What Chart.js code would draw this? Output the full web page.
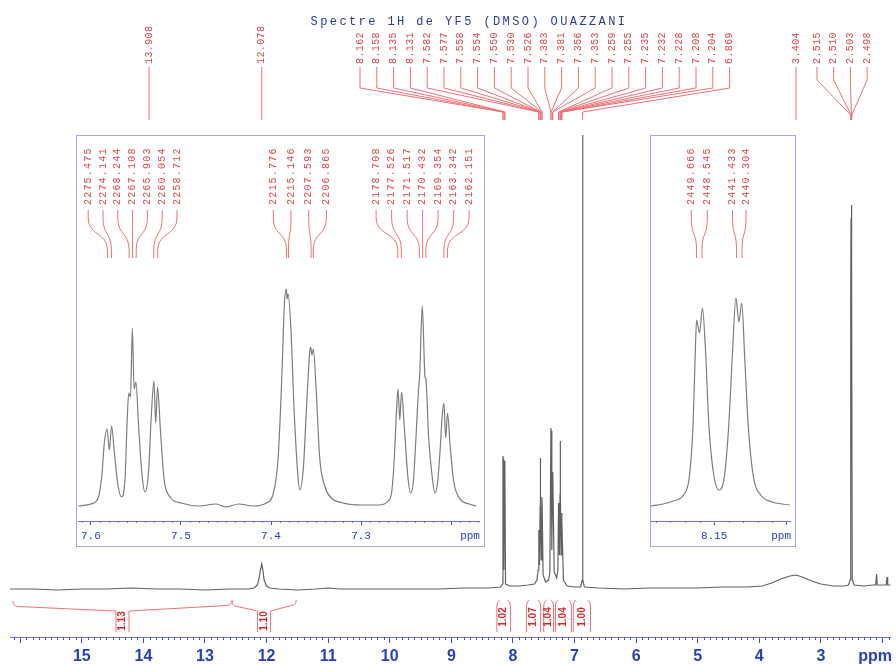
<!DOCTYPE html>
<html>
<head>
<meta charset="utf-8">
<script src="https://cdn.jsdelivr.net/npm/chart.js@4.4.1/dist/chart.umd.min.js"></script>
<style>
  html, body { margin: 0; padding: 0; background: #fff; }
  #wrap { position: relative; width: 896px; height: 664px; overflow: hidden; }
  #main { position: absolute; left: 0; top: 0; }
  .inset { position: absolute; border: 1px solid #a6a6ec; background: #fff; }
  .inset canvas { position: absolute; left: 0; top: 0; }
</style>
</head>
<body>
<div id="wrap">
  <canvas id="main" width="896" height="664"></canvas>
  <div class="inset" style="left:76px;top:135px;width:407px;height:410px"><canvas id="zoomA" width="407" height="410"></canvas></div>
  <div class="inset" style="left:650px;top:135px;width:144px;height:410px"><canvas id="zoomB" width="144" height="410"></canvas></div>
</div>
<script>
const title = 'Spectre 1H de YF5 (DMSO) OUAZZANI';
const specFreq = 300.13; // MHz, Hz labels -> ppm

// full spectrum (ppm, height above baseline)
const mainPpm = [16.166, 15.8, 15.4, 15.0, 14.6, 14.2, 13.8, 13.4, 13.0, 12.6, 12.3, 12.2, 12.15, 12.12, 12.10, 12.078, 12.06, 12.04, 12.0, 11.95,
  11.8, 11.5, 11.2, 11.0, 10.8, 10.4, 10.0, 9.6, 9.2, 8.8, 8.4, 8.2, 8.17, 8.162, 8.158, 8.147, 8.135, 8.131, 8.12, 8.05,
  7.9, 7.75, 7.65, 7.61, 7.59, 7.582, 7.580, 7.577, 7.568, 7.558, 7.556, 7.554, 7.552, 7.550, 7.540, 7.530, 7.528, 7.526, 7.51, 7.47,
  7.42, 7.40, 7.383, 7.381, 7.368, 7.356, 7.353, 7.33, 7.29, 7.27, 7.259, 7.257, 7.255, 7.245, 7.235, 7.232, 7.228, 7.218, 7.208, 7.206,
  7.204, 7.18, 7.12, 7.0, 6.90, 6.875, 6.869, 6.863, 6.84, 6.6, 6.2, 5.8, 5.4, 5.0, 4.6, 4.2, 3.95, 3.8, 3.65, 3.5,
  3.404, 3.3, 3.15, 3.0, 2.8, 2.62, 2.55, 2.525, 2.515, 2.510, 2.505, 2.500, 2.498, 2.49, 2.46, 2.3, 2.15, 2.11, 2.095, 2.085,
  1.94, 1.925, 1.915, 1.866];
const mainInt = [1, 1, 0, 1, 1, 2, 1, 1, 0, 1, 1, 2, 5, 12, 20, 26, 20, 10, 4, 2,
  1, 0, 1, 2, 1, 1, 1, 1, 1, 2, 2, 3, 6, 134, 131, 20, 129, 125, 6, 4,
  4, 5, 6, 10, 20, 58, 45, 60, 25, 84, 80, 132, 88, 92, 30, 93, 80, 89, 15, 8,
  10, 18, 162, 159, 40, 118, 117, 18, 12, 20, 87, 70, 85, 35, 96, 149, 96, 35, 77, 60,
  70, 10, 4, 3, 3, 10, 455, 10, 3, 2, 1, 2, 2, 2, 3, 3, 4, 7, 11, 14,
  15, 13, 9, 6, 4, 4, 5, 10, 300, 372, 385, 372, 300, 10, 5, 4, 5, 5, 16, 5,
  5, 13, 5, 5];
const mainTicks = [16, 15, 14, 13, 12, 11, 10, 9, 8, 7, 6, 5, 4, 3, 2];
const mainTickLabels = ['', '15', '14', '13', '12', '11', '10', '9', '8', '7', '6', '5', '4', '3', ''];

// expansion 7.61 - 7.17 ppm
const zoomAPpm = [7.614, 7.600, 7.592, 7.588, 7.585, 7.582, 7.5795, 7.577, 7.574, 7.570, 7.566, 7.562, 7.560, 7.558, 7.556, 7.554, 7.552, 7.550, 7.547, 7.543,
  7.540, 7.536, 7.533, 7.530, 7.528, 7.526, 7.523, 7.519, 7.512, 7.500, 7.480, 7.461, 7.450, 7.436, 7.420, 7.405, 7.398, 7.392, 7.388, 7.385,
  7.383, 7.382, 7.381, 7.378, 7.374, 7.370, 7.368, 7.364, 7.360, 7.357, 7.356, 7.3545, 7.353, 7.350, 7.346, 7.340, 7.333, 7.320, 7.300, 7.280,
  7.270, 7.266, 7.263, 7.261, 7.259, 7.257, 7.255, 7.252, 7.248, 7.245, 7.242, 7.239, 7.236, 7.235, 7.232, 7.229, 7.228, 7.225, 7.221, 7.218,
  7.215, 7.212, 7.210, 7.208, 7.206, 7.204, 7.201, 7.197, 7.190, 7.180, 7.172];
const zoomAInt = [1, 3, 9, 30, 65, 78, 57, 81, 55, 22, 10, 30, 80, 114, 110, 179, 118, 125, 80, 30,
  15, 35, 90, 126, 84, 120, 80, 30, 10, 4, 1, 3, 0, 3, 1, 4, 12, 50, 130, 205,
  218, 208, 213, 180, 90, 30, 17, 40, 110, 155, 160, 152, 158, 120, 50, 20, 9, 4, 2, 2,
  6, 15, 50, 90, 118, 87, 115, 80, 30, 14, 25, 70, 120, 130, 201, 130, 128, 70, 30, 14,
  25, 60, 90, 104, 69, 94, 60, 25, 8, 3, 1];
const zoomATicks = [7.6, 7.5, 7.4, 7.3, 7.2];
const zoomATickLabels = ['7.6', '7.5', '7.4', '7.3', ''];

// expansion 8.19 - 8.10 ppm
const zoomBPpm = [8.1933, 8.185, 8.178, 8.171, 8.167, 8.1645, 8.163, 8.162, 8.160, 8.158, 8.156, 8.1535, 8.150, 8.1465, 8.143, 8.140, 8.1375, 8.135, 8.133, 8.131,
  8.129, 8.1265, 8.123, 8.118, 8.110, 8.098];
const zoomBInt = [1, 3, 6, 12, 30, 80, 150, 187, 174, 199, 160, 80, 30, 17, 30, 80, 150, 209, 185, 204,
  150, 80, 30, 12, 5, 2];
const zoomBTicks = [8.15, 8.10];
const zoomBTickLabels = ['8.15', ''];

// peak picking
const shiftsOH = [13.908];
const shiftsNH = [12.078];
const shiftsArom = [8.162, 8.158, 8.135, 8.131, 7.582, 7.577, 7.558, 7.554, 7.550, 7.530, 7.526, 7.383,
  7.381, 7.356, 7.353, 7.259, 7.255, 7.235, 7.232, 7.228, 7.208, 7.204, 6.869];
const shiftsWater = [3.404];
const shiftsDmso = [2.515, 2.510, 2.503, 2.498];

const hzA1 = [2275.475, 2274.141, 2268.244, 2267.108, 2265.903, 2260.054, 2258.712];
const hzA2 = [2215.776, 2215.146, 2207.593, 2206.865];
const hzA3 = [2178.708, 2177.526, 2171.517, 2170.432, 2169.354, 2163.342, 2162.151];
const hzB1 = [2449.666, 2448.545];
const hzB2 = [2441.433, 2440.304];

// integrals
const integralFrom = [16.12, 12.56, 8.26, 7.78, 7.50, 7.31, 7.02];
const integralTo = [12.56, 11.52, 8.04, 7.55, 7.34, 7.05, 6.74];
const integralValues = ['1.13', '1.10', '1.02', '1.07', '1.04', '1.04', '1.00'];

const RED = '#e5454b';
const RED_LINE = '#ee7276';
const BLUE = '#2a40c2';
const MONO = '"Liberation Mono", "DejaVu Sans Mono", monospace';

function vText(ctx, text, x, y, font, color, spacing, align) {
  ctx.save();
  ctx.translate(x, y);
  ctx.rotate(-Math.PI / 2);
  ctx.font = font;
  ctx.fillStyle = color;
  ctx.letterSpacing = spacing || '0px';
  ctx.textAlign = align || 'left';
  ctx.textBaseline = 'middle';
  ctx.fillText(text, 0, 0);
  ctx.restore();
}

function minorTicks(ctx, scale, y, from, to, div, len, color) {
  ctx.save();
  ctx.strokeStyle = color;
  ctx.lineWidth = 1;
  for (let i = from; i <= to; i++) {
    if (i % 10 === 0) continue;
    const px = Math.round(scale.getPixelForValue(i / div)) + 0.5;
    ctx.beginPath();
    ctx.moveTo(px, y);
    ctx.lineTo(px, y + len);
    ctx.stroke();
  }
  ctx.restore();
}

// label layout for the main peak list
const mainFans = [
  { ppm: shiftsOH, x0: null, step: 0, bend: [88, 112] },
  { ppm: shiftsNH, x0: null, step: 0, bend: [88, 112] },
  { ppm: shiftsArom, x0: 360, step: 16.8, bend: [88, 112] },
  { ppm: shiftsWater, x0: null, step: 0, bend: [80, 115] },
  { ppm: shiftsDmso, x0: 817, step: 16.7, bend: [80, 115] }
];

const mainDecor = {
  id: 'mainDecor',
  afterDraw(chart) {
    const ctx = chart.ctx;
    const sx = chart.scales.x;
    const bottom = chart.chartArea.bottom;
    minorTicks(ctx, sx, bottom, 19, 161, 10, 3, '#3c4fd0');

    ctx.save();
    ctx.font = '12px ' + MONO;
    ctx.letterSpacing = '2.4px';
    ctx.fillStyle = '#2c3c9c';
    ctx.textAlign = 'center';
    ctx.textBaseline = 'middle';
    ctx.fillText(title, 469, 22);
    ctx.restore();

    ctx.save();
    ctx.strokeStyle = RED_LINE;
    ctx.lineWidth = 1;
    mainFans.forEach((g) => {
      g.ppm.forEach((p, i) => {
        const px = sx.getPixelForValue(p);
        const lx = g.x0 === null ? px : g.x0 + i * g.step;
        vText(ctx, p.toFixed(3), lx, 64, '10px ' + MONO, RED, '0.4px');
        ctx.beginPath();
        ctx.moveTo(lx, 67);
        ctx.lineTo(lx, g.bend[0]);
        ctx.lineTo(px, g.bend[1]);
        ctx.lineTo(px, 120);
        ctx.stroke();
      });
    });

    integralFrom.forEach((from, i) => {
      const x0 = sx.getPixelForValue(from);
      const x1 = sx.getPixelForValue(integralTo[i]);
      const cx = (x0 + x1) / 2;
      ctx.beginPath();
      let ty;
      if (x1 - x0 > 40) {
        const l = cx - 6.5, r = cx + 6.5;
        ctx.moveTo(x0, 601);
        ctx.quadraticCurveTo(x0, 606, x0 + 5, 606.5);
        ctx.lineTo(l, 611);
        ctx.lineTo(l, 632);
        ctx.moveTo(r, 632);
        ctx.lineTo(r, 611);
        ctx.lineTo(x1 - 5, 605.5);
        ctx.quadraticCurveTo(x1, 605, x1, 600);
        ty = 621;
      } else {
        ctx.moveTo(x0 + 3, 600);
        ctx.quadraticCurveTo(x0, 601, x0, 606);
        ctx.lineTo(x0, 632);
        ctx.moveTo(x1 - 3, 600);
        ctx.quadraticCurveTo(x1, 601, x1, 606);
        ctx.lineTo(x1, 632);
        ty = 617;
      }
      ctx.stroke();
      vText(ctx, integralValues[i], cx, ty, 'bold 10px "Liberation Sans", Arial, sans-serif', '#d82a2a', '0px', 'center');
    });
    ctx.restore();
  }
};

function insetDecor(groups, minorFrom, minorTo) {
  return {
    id: 'insetDecor',
    afterDraw(chart) {
      const ctx = chart.ctx;
      const sx = chart.scales.x;
      minorTicks(ctx, sx, chart.chartArea.bottom, minorFrom, minorTo, 100, 2, '#6f7ed8');
      ctx.save();
      ctx.strokeStyle = RED_LINE;
      ctx.lineWidth = 1;
      groups.forEach((g) => {
        const peaks = g.hz.map((h) => sx.getPixelForValue(h / specFreq));
        const mid = peaks.reduce((a, b) => a + b, 0) / peaks.length;
        g.hz.forEach((h, i) => {
          const lx = mid + (i - (g.hz.length - 1) / 2) * g.step;
          const px = peaks[i];
          vText(ctx, h.toFixed(3), lx, 69, '10px ' + MONO, RED, '1.2px');
          ctx.beginPath();
          ctx.moveTo(lx, 74);
          ctx.lineTo(lx, 82);
          ctx.bezierCurveTo(lx, 100, px, 96, px, 114);
          ctx.lineTo(px, 122);
          ctx.stroke();
        });
      });
      ctx.restore();
    }
  };
}

function axisX(min, max, ticks, labels, ppmAt, font, tickLen, pad, height) {
  return {
    type: 'linear',
    reverse: true,
    min,
    max,
    afterBuildTicks: (s) => { s.ticks = ticks.concat([ppmAt]).map((value) => ({ value })); },
    afterFit: (s) => { s.height = height; },
    grid: {
      drawOnChartArea: false,
      tickLength: tickLen,
      tickColor: (c) => (c.tick && c.tick.value === ppmAt ? 'rgba(0,0,0,0)' : '#3c4fd0')
    },
    border: { color: '#6a78dc', width: 1 },
    ticks: {
      autoSkip: false,
      maxRotation: 0,
      padding: pad,
      font,
      color: BLUE,
      callback: (v) => (v === ppmAt ? 'ppm' : labels[ticks.indexOf(v)])
    }
  };
}

function spectrum(ppm, ints, color, width, smooth) {
  return {
    data: ppm.map((x, i) => ({ x, y: ints[i] })),
    borderColor: color,
    borderWidth: width,
    pointRadius: 0,
    fill: false,
    cubicInterpolationMode: smooth ? 'monotone' : 'default',
    tension: 0
  };
}

const common = {
  responsive: false,
  animation: false,
  devicePixelRatio: 1,
  plugins: { legend: { display: false }, tooltip: { enabled: false } }
};

new Chart(document.getElementById('main'), {
  type: 'line',
  data: { datasets: [spectrum(mainPpm, mainInt, '#616161', 1.2, false)] },
  options: {
    ...common,
    layout: { padding: { left: 10, right: 3, top: 30, bottom: 0 }, autoPadding: false },
    scales: {
      x: axisX(1.866, 16.166, mainTicks, mainTickLabels, 2.12,
        { family: '"Liberation Sans", Arial, sans-serif', size: 16, weight: 'bold' }, 6, 4, 27),
      y: { display: false, min: -47, max: 560 }
    }
  },
  plugins: [mainDecor]
});

new Chart(document.getElementById('zoomA'), {
  type: 'line',
  data: { datasets: [spectrum(zoomAPpm, zoomAInt, '#7c7c7c', 1.2, true)] },
  options: {
    ...common,
    layout: { padding: { left: 0, right: 4, top: 134, bottom: 0 }, autoPadding: false },
    scales: {
      x: axisX(7.168, 7.614, zoomATicks, zoomATickLabels, 7.179,
        { family: MONO, size: 11 }, 4, 4, 25),
      y: { display: false, min: -14, max: 237 }
    }
  },
  plugins: [insetDecor([{ hz: hzA1, step: 14.8 }, { hz: hzA2, step: 17.7 }, { hz: hzA3, step: 15.5 }], 717, 761)]
});

new Chart(document.getElementById('zoomB'), {
  type: 'line',
  data: { datasets: [spectrum(zoomBPpm, zoomBInt, '#7c7c7c', 1.2, true)] },
  options: {
    ...common,
    layout: { padding: { left: 0, right: 0, top: 134, bottom: 0 }, autoPadding: false },
    scales: {
      x: axisX(8.0973, 8.1933, zoomBTicks, zoomBTickLabels, 8.104,
        { family: MONO, size: 11 }, 4, 4, 25),
      y: { display: false, min: -14, max: 237 }
    }
  },
  plugins: [insetDecor([{ hz: hzB1, step: 16 }, { hz: hzB2, step: 13.5 }], 810, 819)]
});
</script>
</body>
</html>
